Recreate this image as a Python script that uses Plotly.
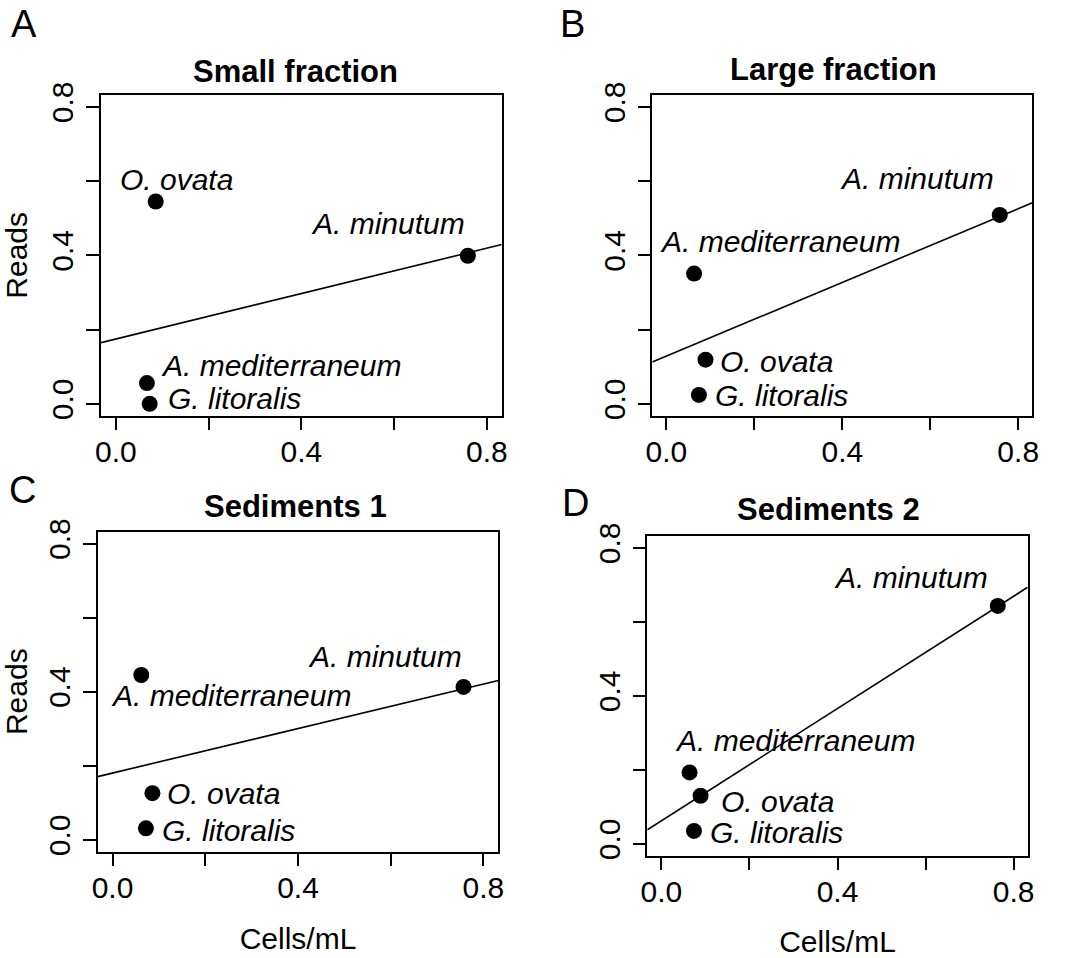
import numpy as np
import plotly.graph_objects as go

# ---------------- data ----------------
panel_titles = ["Small fraction", "Large fraction", "Sediments 1", "Sediments 2"]
panel_letters = ["A", "B", "C", "D"]
species = ["A. minutum", "A. mediterraneum", "O. ovata", "G. litoralis"]

cells_small = [0.759, 0.067, 0.086, 0.073]
reads_small = [0.399, 0.056, 0.545, 0.000]
cells_large = [0.758, 0.063, 0.089, 0.074]
reads_large = [0.509, 0.351, 0.119, 0.024]
cells_sed1 = [0.757, 0.062, 0.086, 0.072]
reads_sed1 = [0.413, 0.445, 0.126, 0.031]
cells_sed2 = [0.764, 0.064, 0.089, 0.074]
reads_sed2 = [0.643, 0.193, 0.130, 0.035]

tick_vals = [0.0, 0.2, 0.4, 0.6, 0.8]
tick_text = ["0.0", "", "0.4", "", "0.8"]

# ---------------- layout helpers ----------------
W, H = 1070, 958
FONT = "Liberation Sans, Arial, Helvetica, sans-serif"
axis_range = [-0.032, 0.832]

xs = [cells_small, cells_large, cells_sed1, cells_sed2]
ys = [reads_small, reads_large, reads_sed1, reads_sed2]

# plot boxes in pixels: (left, right, top, bottom)
boxes = [(101, 501.7, 95, 415.7), (652.3, 1032.3, 95, 415.7),
         (97.7, 498.3, 531.7, 851.7), (647.3, 1027.7, 536, 855.7)]
title_pos = [(295, 71.7), (833.3, 70), (295, 506.7), (828, 510)]
letter_pos = [(23.5, 24), (572.5, 24), (22.5, 490), (575, 502.5)]

# label placement per panel, per species: (xanchor, xshift, yshift)
label_place = [
    [("right", -1, 32), ("left", 12, 18), ("center", 21, 22), ("left", 16, 5)],
    [("right", -4, 36), ("center", 86, 32), ("left", 12, -2), ("left", 14, -1)],
    [("right", 0, 30), ("center", 90, -20), ("left", 13, 0), ("left", 14, -2)],
    [("right", -8, 28), ("center", 105, 32), ("left", 18, -6), ("left", 14, -2)],
]

fig = go.Figure()
annotations = []

for i in range(4):
    l, r, t, b = boxes[i]
    xa = "x" if i == 0 else f"x{i+1}"
    ya = "y" if i == 0 else f"y{i+1}"
    xkey = "xaxis" if i == 0 else f"xaxis{i+1}"
    ykey = "yaxis" if i == 0 else f"yaxis{i+1}"

    x = np.array(xs[i])
    y = np.array(ys[i])
    slope, intercept = np.polyfit(x, y, 1)
    xl = np.array(axis_range)
    fig.add_trace(go.Scatter(x=xl, y=intercept + slope * xl, mode="lines",
                             line=dict(color="black", width=1.6),
                             xaxis=xa, yaxis=ya, showlegend=False,
                             hoverinfo="skip"))
    fig.add_trace(go.Scatter(x=x, y=y, mode="markers",
                             marker=dict(color="black", size=16, line=dict(width=0)),
                             text=species, xaxis=xa, yaxis=ya, showlegend=False,
                             cliponaxis=False))

    common = dict(range=axis_range, tickvals=tick_vals, ticktext=tick_text,
                  ticks="outside", ticklen=13, tickwidth=1.5, tickcolor="black",
                  showline=True, linecolor="black", linewidth=1.5, mirror=True,
                  showgrid=False, zeroline=False, automargin=False,
                  tickfont=dict(family=FONT, size=30, color="black"))
    xaxis = dict(common, domain=[l / W, r / W], anchor=ya, ticklabelstandoff=-4)
    yaxis = dict(common, domain=[1 - b / H, 1 - t / H], anchor=xa,
                 tickangle=-90, ticklabelstandoff=1)
    if i >= 2:
        xaxis["title"] = dict(text="Cells/mL", font=dict(family=FONT, size=30, color="black"),
                              standoff=25)
    if i in (0, 2):
        yaxis["title"] = dict(text="Reads", font=dict(family=FONT, size=30, color="black"),
                              standoff=11)
    fig.update_layout({xkey: xaxis, ykey: yaxis})

    # species labels
    for j, name in enumerate(species):
        xanchor, dx, dy = label_place[i][j]
        annotations.append(dict(x=x[j], y=y[j], xref=xa, yref=ya, text=name,
                                showarrow=False, xanchor=xanchor, yanchor="middle",
                                xshift=dx, yshift=dy,
                                font=dict(family=FONT, size=30, color="black",
                                          style="italic")))
    # panel titles
    tx, ty = title_pos[i]
    annotations.append(dict(x=tx / W, y=1 - ty / H, xref="paper", yref="paper",
                            text=f"<b>{panel_titles[i]}</b>", showarrow=False,
                            xanchor="center", yanchor="middle",
                            font=dict(family=FONT, size=31, color="black")))
    # panel letters
    lx, ly = letter_pos[i]
    annotations.append(dict(x=lx / W, y=1 - ly / H, xref="paper", yref="paper",
                            text=panel_letters[i], showarrow=False,
                            xanchor="center", yanchor="middle",
                            font=dict(family=FONT, size=38, color="black")))

fig.update_layout(width=W, height=H, margin=dict(l=0, r=0, t=0, b=0, autoexpand=False),
                  paper_bgcolor="white", plot_bgcolor="white",
                  annotations=annotations, showlegend=False)

fig.write_html("out.html", post_script="document.body.style.margin='0';")
